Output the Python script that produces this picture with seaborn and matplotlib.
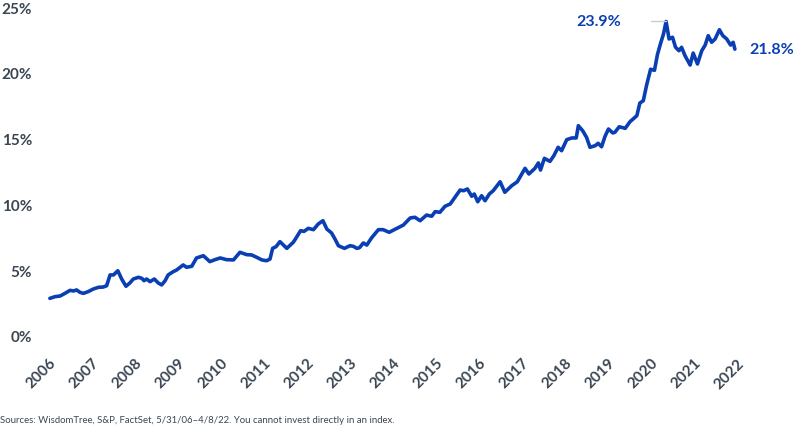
import numpy as np
import pandas as pd
import matplotlib
matplotlib.use("Agg")
import matplotlib.pyplot as plt
import seaborn as sns

# fecha dos pontos (ano decimal) e valor (%)
anos = [2006.43, 2006.55, 2006.67, 2006.78, 2006.90, 2006.98, 2007.05, 2007.13, 2007.21, 2007.32,
        2007.44, 2007.56, 2007.67, 2007.75, 2007.83, 2007.91, 2008.01, 2008.10, 2008.20, 2008.29,
        2008.37, 2008.49, 2008.57, 2008.62, 2008.68, 2008.76, 2008.86, 2008.95, 2009.03, 2009.11,
        2009.18, 2009.30, 2009.38, 2009.53, 2009.61, 2009.73, 2009.84, 2010.00, 2010.15, 2010.27,
        2010.39, 2010.54, 2010.70, 2010.85, 2011.01, 2011.12, 2011.24, 2011.36, 2011.47, 2011.55,
        2011.61, 2011.69, 2011.78, 2011.94, 2012.09, 2012.15, 2012.26, 2012.34, 2012.44, 2012.56,
        2012.67, 2012.78, 2012.87, 2012.98, 2013.06, 2013.14, 2013.28, 2013.41, 2013.49, 2013.57,
        2013.63, 2013.72, 2013.80, 2013.91, 2014.07, 2014.18, 2014.32, 2014.50, 2014.65, 2014.81,
        2014.92, 2015.04, 2015.19, 2015.31, 2015.39, 2015.50, 2015.62, 2015.74, 2015.85, 2015.97,
        2016.05, 2016.14, 2016.24, 2016.30, 2016.38, 2016.47, 2016.55, 2016.65, 2016.74, 2016.90,
        2017.01, 2017.17, 2017.30, 2017.48, 2017.57, 2017.71, 2017.79, 2017.84, 2017.93, 2018.06,
        2018.15, 2018.25, 2018.33, 2018.45, 2018.57, 2018.67, 2018.72, 2018.82, 2018.91, 2018.99,
        2019.11, 2019.18, 2019.26, 2019.34, 2019.42, 2019.52, 2019.57, 2019.67, 2019.81, 2019.92,
        2020.08, 2020.15, 2020.23, 2020.31, 2020.40, 2020.49, 2020.56, 2020.64, 2020.70, 2020.76,
        2020.83, 2020.91, 2020.98, 2021.06, 2021.12, 2021.20, 2021.32, 2021.39, 2021.49, 2021.59,
        2021.67, 2021.74, 2021.82, 2021.90, 2022.00, 2022.08, 2022.17, 2022.26, 2022.32, 2022.36]
valores = [2.86, 2.99, 3.04, 3.24, 3.47, 3.42, 3.50, 3.32, 3.24, 3.37,
           3.57, 3.70, 3.72, 3.82, 4.64, 4.64, 4.96, 4.33, 3.78, 4.03,
           4.33, 4.46, 4.38, 4.20, 4.33, 4.13, 4.33, 4.03, 3.88, 4.20,
           4.64, 4.89, 5.02, 5.40, 5.22, 5.30, 5.93, 6.10, 5.65, 5.80,
           5.93, 5.80, 5.78, 6.36, 6.18, 6.16, 5.98, 5.78, 5.72, 5.85,
           6.66, 6.79, 7.17, 6.66, 7.12, 7.42, 8.00, 7.95, 8.18, 8.08,
           8.51, 8.76, 8.13, 7.83, 7.37, 6.86, 6.66, 6.86, 6.81, 6.66,
           6.71, 7.07, 6.91, 7.45, 8.08, 8.08, 7.88, 8.18, 8.43, 8.97,
           9.02, 8.76, 9.19, 9.10, 9.45, 9.40, 9.86, 10.03, 10.54, 11.09,
           11.04, 11.17, 10.62, 10.79, 10.20, 10.66, 10.28, 10.79, 11.04, 11.72,
           10.92, 11.42, 11.72, 12.74, 12.31, 12.74, 13.15, 12.61, 13.50, 13.27,
           13.70, 14.34, 14.08, 14.92, 15.05, 15.05, 15.98, 15.60, 15.10, 14.34,
           14.46, 14.64, 14.38, 15.17, 15.73, 15.43, 15.48, 15.90, 15.78, 16.28,
           16.74, 17.70, 17.88, 19.10, 20.27, 20.19, 21.40, 22.32, 22.95, 23.90,
           22.57, 22.70, 21.94, 21.68, 21.94, 21.30, 20.59, 21.50, 20.67, 21.68,
           22.11, 22.82, 22.32, 22.57, 23.27, 22.82, 22.57, 22.11, 22.32, 21.80]

anos_label = list(range(2006, 2023))
yticks = [0, 5, 10, 15, 20, 25]

azul = "#0a3fb4"
cinza = "#3b4653"

sns.set_style("white")
plt.rcParams['font.family'] = ['Lato', 'DejaVu Sans']

df = pd.DataFrame({'ano': anos, 'valor': valores})

fig = plt.figure(figsize=(8, 4.35), dpi=100)
ax = fig.add_axes([0.0575, 0.2253, 0.874, 0.7563])

sns.lineplot(data=df, x='ano', y='valor', ax=ax, color=azul, linewidth=2.6, clip_on=False)

ax.set_xlim(2006.34, 2022.6)
ax.set_ylim(0, 25)
sns.despine(ax=ax, left=True, bottom=True)
ax.set_xlabel('')
ax.set_ylabel('')

ax.set_yticks(yticks)
ax.set_yticklabels(['{}%'.format(v) for v in yticks], fontsize=11, fontweight='bold', color=cinza)
ax.set_xticks([anos[0] - 0.02 + k for k in range(len(anos_label))])
ax.set_xticklabels([str(a) for a in anos_label], fontsize=11, fontweight='bold', color=cinza,
                   rotation=45, ha='right', rotation_mode='anchor')
ax.tick_params(axis='both', length=0)
ax.tick_params(axis='y', pad=10)
ax.tick_params(axis='x', pad=14)

# pico e ultimo valor
i_pico = int(np.argmax(valores))
ax.plot([anos[i_pico] - 0.35, anos[i_pico]], [valores[i_pico], valores[i_pico]], color='#c8cdd3', lw=1)
ax.text(anos[i_pico] - 1.05, valores[i_pico], '{:.1f}%'.format(valores[i_pico]), color=azul,
        fontsize=11.5, fontweight='bold', ha='right', va='center')
ax.text(anos[-1] + 0.33, valores[-1], '{:.1f}%'.format(valores[-1]), color=azul,
        fontsize=11.5, fontweight='bold', ha='left', va='center')

fig.text(0.0, 0.022, 'Sources: WisdomTree, S&P, FactSet, 5/31/06\u20134/8/22. You cannot invest directly in an index.',
         fontsize=6.9, color=cinza, ha='left', va='bottom')

fig.savefig('out.png', dpi=100)
